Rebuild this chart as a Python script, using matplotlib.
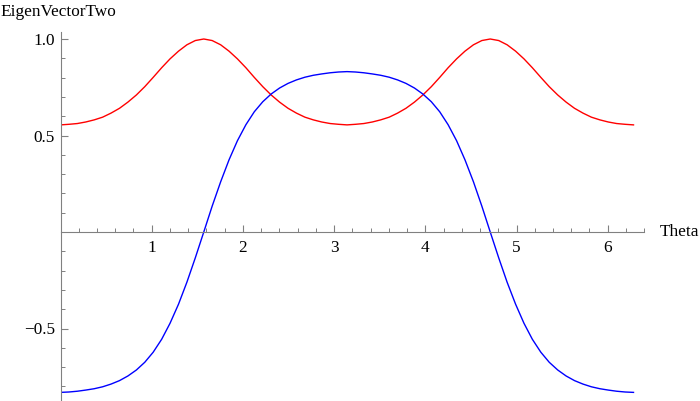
import matplotlib
matplotlib.use("Agg")
import matplotlib.pyplot as plt
from matplotlib.ticker import MultipleLocator, FixedLocator

theta = [0.000, 0.092, 0.185, 0.277, 0.370, 0.462, 0.554, 0.647, 0.739, 0.832, 0.924, 1.016, 1.109, 1.201, 1.294, 1.386, 1.478, 1.571,
         1.663, 1.756, 1.848, 1.940, 2.033, 2.125, 2.218, 2.310, 2.402, 2.495, 2.587, 2.680, 2.772, 2.864, 2.957, 3.049, 3.142,
         3.234, 3.326, 3.419, 3.511, 3.604, 3.696, 3.788, 3.881, 3.973, 4.066, 4.158, 4.250, 4.343, 4.435, 4.528, 4.620, 4.712,
         4.805, 4.897, 4.990, 5.082, 5.174, 5.267, 5.359, 5.452, 5.544, 5.636, 5.729, 5.821, 5.914, 6.006, 6.098, 6.191, 6.283]

red_values = [0.555, 0.558, 0.562, 0.570, 0.581, 0.595, 0.616, 0.641, 0.673, 0.710, 0.753, 0.801, 0.851, 0.897, 0.937, 0.970, 0.992, 1.000,
              0.992, 0.970, 0.937, 0.897, 0.851, 0.801, 0.753, 0.710, 0.673, 0.641, 0.616, 0.595, 0.581, 0.570, 0.562, 0.558, 0.555,
              0.558, 0.562, 0.570, 0.581, 0.595, 0.616, 0.641, 0.673, 0.710, 0.753, 0.801, 0.851, 0.897, 0.937, 0.970, 0.992, 1.000,
              0.992, 0.970, 0.937, 0.897, 0.851, 0.801, 0.753, 0.710, 0.673, 0.641, 0.616, 0.595, 0.581, 0.570, 0.562, 0.558, 0.555]

blue_values = [-0.831, -0.829, -0.825, -0.819, -0.812, -0.802, -0.788, -0.770, -0.746, -0.715, -0.675, -0.623, -0.556, -0.473, -0.374, -0.260, -0.134, 0.000,
               0.134, 0.260, 0.374, 0.473, 0.556, 0.623, 0.675, 0.715, 0.746, 0.770, 0.788, 0.802, 0.812, 0.819, 0.825, 0.829, 0.831,
               0.829, 0.825, 0.819, 0.812, 0.802, 0.788, 0.770, 0.746, 0.715, 0.675, 0.623, 0.556, 0.473, 0.374, 0.260, 0.134, 0.000,
               -0.134, -0.260, -0.374, -0.473, -0.556, -0.623, -0.675, -0.715, -0.746, -0.770, -0.788, -0.802, -0.812, -0.819, -0.825, -0.829, -0.831]

x_ticks = [1, 2, 3, 4, 5, 6]
y_ticks = [-0.5, 0.5, 1.0]
y_tick_labels = ["\u22120.5", "0.5", "1.0"]
x_label = "Theta"
y_label = "EigenVectorTwo"

FONT = "Liberation Serif"
FS = 12.4
AXCOL = "#808080"

W, H = 700, 401
fig = plt.figure(figsize=(W / 100, H / 100), dpi=100)

xmin, xmax = 0.0, 6.40
ymin, ymax = -0.87, 1.036
px_x0 = 60.5
sx = 91.2
sy = 193.0
y0_px = 232.0
left = px_x0 / W
width = (xmax - xmin) * sx / W
top_px = y0_px - ymax * sy
bot_px = y0_px - ymin * sy
ax = fig.add_axes([left, 1 - bot_px / H, width, (bot_px - top_px) / H])
ax.set_xlim(xmin, xmax)
ax.set_ylim(ymin, ymax)
ax.patch.set_visible(False)

ax.plot(theta, red_values, color=(1, 0, 0), lw=1.0, solid_joinstyle="round")
ax.plot(theta, blue_values, color=(0, 0, 1), lw=1.0, solid_joinstyle="round")

for s in ("top", "right"):
    ax.spines[s].set_visible(False)
ax.spines["left"].set_position(("data", 0))
ax.spines["bottom"].set_position(("data", 0))
for s in ("left", "bottom"):
    ax.spines[s].set_color(AXCOL)
    ax.spines[s].set_linewidth(0.8)

ax.xaxis.set_major_locator(FixedLocator(x_ticks))
ax.xaxis.set_minor_locator(MultipleLocator(0.2))
ax.yaxis.set_major_locator(FixedLocator(y_ticks))
ax.set_yticklabels(y_tick_labels)
ax.yaxis.set_minor_locator(MultipleLocator(0.1))
ax.set_xticklabels([str(t) for t in x_ticks])

ax.tick_params(axis="both", which="major", direction="in", length=5, width=0.8, color=AXCOL,
               labelsize=FS, labelcolor="black")
ax.tick_params(axis="both", which="minor", direction="in", length=2.9, width=0.7, color=AXCOL)
ax.tick_params(axis="x", which="major", pad=6)
ax.tick_params(axis="y", which="major", pad=4)
for lab in ax.get_xticklabels() + ax.get_yticklabels():
    lab.set_fontfamily(FONT)

fig.text(0 / W, 1 - 12 / H, y_label, ha="left", va="center", fontsize=FS, family=FONT)
fig.text(660 / W, 1 - 232.5 / H, x_label, ha="left", va="center", fontsize=FS, family=FONT)

fig.savefig("out.png", dpi=100)
